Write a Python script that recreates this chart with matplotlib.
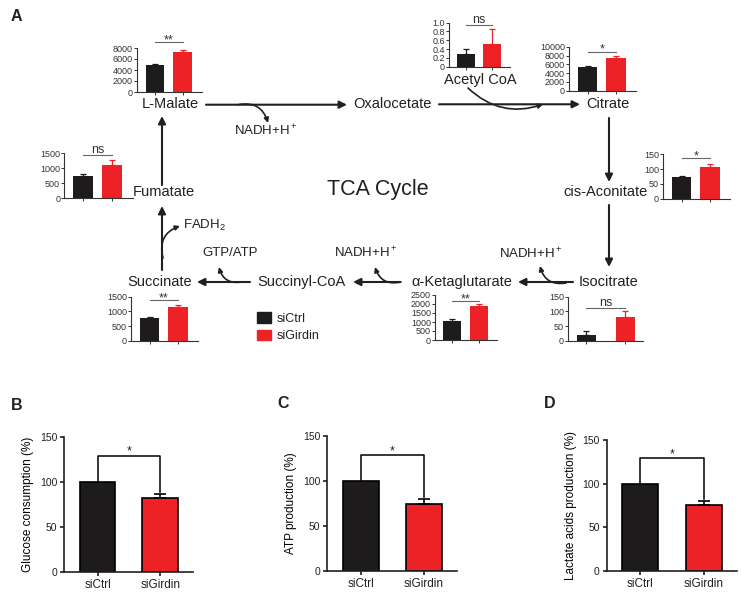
import numpy as np
import matplotlib.pyplot as plt
from matplotlib.patches import Patch

plt.rcParams['font.family'] = ['Liberation Sans', 'DejaVu Sans']
plt.rcParams['text.color'] = '#231f20'
plt.rcParams['axes.edgecolor'] = '#231f20'
plt.rcParams['xtick.color'] = '#231f20'
plt.rcParams['ytick.color'] = '#231f20'

groups = ['siCtrl', 'siGirdin']
black = '#1d1b1c'
red = '#ec2227'

# panel A insets, (siCtrl, siGirdin) mean and upper error
malate = [4950, 7200]
malate_err = [80, 400]
acetyl = [0.28, 0.52]
acetyl_err = [0.13, 0.34]
citrate = [5500, 7450]
citrate_err = [150, 500]
aconitate = [74, 108]
aconitate_err = [4, 9]
fumarate = [745, 1110]
fumarate_err = [65, 165]
succinate = [790, 1160]
succinate_err = [20, 60]
ketoglut = [1060, 1890]
ketoglut_err = [90, 90]
isocitrate = [20, 80]
isocitrate_err = [14, 20]

# panels B-D
glucose = [100, 81.5]
glucose_err = [0, 4.5]
atp = [100, 74.5]
atp_err = [0, 5]
lactate = [100, 76]
lactate_err = [0, 4]

W, H = 741, 596
fig = plt.figure(figsize=(W / 100, H / 100), dpi=100)


def px_axes(x0, y0, x1, y1):
    return fig.add_axes([x0 / W, 1 - y1 / H, (x1 - x0) / W, (y1 - y0) / H])


def sig_text(ax, y, mark, size, color):
    # stars sit just above the line, "ns" a little higher
    off = -0.8 if '*' in mark else 1.5
    ax.annotate(mark, (0.5, y), xytext=(0, off), textcoords='offset points',
                ha='center', va='baseline', fontsize=size, color=color,
                annotation_clip=False)


def inset(box, vals, errs, ymax, step, mark, sig, xlim=(-0.65, 1.7), width=0.68, fmt='%d'):
    ax = px_axes(*box)
    x = np.arange(2)
    ax.bar(x, vals, width, color=[black, red])
    for xi, v, e, c in zip(x, vals, errs, [black, red]):
        ax.errorbar(xi, v, yerr=[[0], [e]], color=c, capsize=2.5, elinewidth=0.9, capthick=0.9)
    ax.set_xlim(*xlim)
    ax.set_ylim(0, ymax)
    ticks = np.arange(0, ymax + step / 2, step)
    ax.set_yticks(ticks)
    ax.set_yticklabels(['0' if t == 0 else fmt % t for t in ticks])
    ax.set_xticks(x)
    ax.set_xticklabels([])
    for s in ['top', 'right']:
        ax.spines[s].set_visible(False)
    for s in ['left', 'bottom']:
        ax.spines[s].set_linewidth(0.8)
        ax.spines[s].set_color('#333333')
    ax.tick_params(length=2, width=0.7, pad=1, labelsize=6.5, colors='#333333')
    ax.patch.set_alpha(0)
    ys = ymax * sig
    ax.plot([0, 1], [ys, ys], color='#666666', lw=0.8, clip_on=False)
    sig_text(ax, ys, mark, 9, '#333333')
    return ax


inset((137, 48, 202, 92), malate, malate_err, 8000, 2000, '**', 1.13)
inset((449, 22.7, 510, 66.7), acetyl, acetyl_err, 1.0, 0.2, 'ns', 0.95, fmt='%.1f')
inset((569, 46.7, 636, 90.7), citrate, citrate_err, 10000, 2000, '*', 0.89)
inset((663, 154.3, 730, 198.7), aconitate, aconitate_err, 150, 50, '*', 0.91)
inset((64.3, 153.3, 132.7, 198.3), fumarate, fumarate_err, 1500, 500, 'ns', 0.96)
inset((131, 296.7, 198, 340.7), succinate, succinate_err, 1500, 500, '**', 0.92)
inset((435, 295, 497, 340), ketoglut, ketoglut_err, 2500, 500, '**', 0.87)
inset((568, 296.7, 643, 340.7), isocitrate, isocitrate_err, 150, 50, 'ns', 0.75,
      xlim=(-0.47, 1.45), width=0.49)


def panel(box, vals, errs, ylabel):
    ax = px_axes(*box)
    x = np.arange(2)
    ax.bar(x, vals, 0.57, color=[black, red], edgecolor='black', linewidth=1.2)
    ax.errorbar(x[1], vals[1], yerr=[[0], [errs[1]]], color='black', capsize=4,
                elinewidth=1.2, capthick=1.2)
    ax.set_xlim(-0.53, 1.52)
    ax.set_ylim(0, 150)
    ax.set_yticks([0, 50, 100, 150])
    ax.set_xticks(x)
    ax.set_xticklabels(groups, fontsize=8.5)
    for s in ['top', 'right']:
        ax.spines[s].set_visible(False)
    for s in ['left', 'bottom']:
        ax.spines[s].set_linewidth(1.2)
    ax.tick_params(axis='y', length=3, width=1.2, pad=2, labelsize=7.5)
    ax.tick_params(axis='x', length=3, width=1.2, pad=2)
    ax.set_ylabel(ylabel, fontsize=8.5, labelpad=4)
    ax.patch.set_alpha(0)
    top = 129
    ax.plot([0, 0, 1, 1], [vals[0] + 1, top, top, vals[1] + errs[1] + 3], color='black', lw=1.1)
    ax.annotate('*', (0.5, top), xytext=(0, 0.5), textcoords='offset points',
                ha='center', va='baseline', fontsize=9, annotation_clip=False)
    return ax


panel((64.3, 436.7, 193, 571.7), glucose, glucose_err, 'Glucose consumption (%)')
panel((327.3, 436, 456.7, 571), atp, atp_err, 'ATP production (%)')
panel((606.7, 440, 736.7, 571), lactate, lactate_err, 'Lactate acids production (%)')

# overlay for the cycle diagram
ov = fig.add_axes([0, 0, 1, 1], zorder=-1)
ov.set_xlim(0, W)
ov.set_ylim(H, 0)
ov.axis('off')

fs = 10.5
labels = [
    ('L-Malate', 170, 104), ('Oxalocetate', 392, 104), ('Citrate', 608, 104),
    ('Acetyl CoA', 480, 80), ('Fumatate', 164, 192.5), ('Succinate', 160, 282),
    ('Succinyl-CoA', 301, 282), ('α-Ketaglutarate', 462, 282), ('Isocitrate', 609, 282),
]
for t, x, y in labels:
    ov.text(x, y, t, ha='center', va='center', fontsize=fs)
ov.text(648, 192.5, 'cis-Aconitate', ha='right', va='center', fontsize=fs)

sfs = 9.5
ov.text(266, 131, r'NADH+H$\mathregular{^+}$', ha='center', va='center', fontsize=sfs)
ov.text(531, 254, r'NADH+H$\mathregular{^+}$', ha='center', va='center', fontsize=sfs)
ov.text(366, 253, r'NADH+H$\mathregular{^+}$', ha='center', va='center', fontsize=sfs)
ov.text(230, 253, 'GTP/ATP', ha='center', va='center', fontsize=sfs)
ov.text(183, 225, r'FADH$\mathregular{_2}$', ha='left', va='center', fontsize=sfs)

ov.text(378, 190, 'TCA Cycle', ha='center', va='center', fontsize=15.5)

for t, x, y in [('A', 16.5, 16.5), ('B', 17, 405), ('C', 283, 404), ('D', 550, 404)]:
    ov.text(x, y, t, ha='center', va='center', fontsize=11.5, fontweight='bold')

straight = dict(arrowstyle='-|>', color='#231f20', lw=1.5, mutation_scale=11,
                shrinkA=0, shrinkB=0)
for (x0, y0), (x1, y1) in [
    ((206, 104.7), (347, 104.7)), ((439, 104.3), (580, 104.3)),
    ((609, 118), (609, 182)), ((609, 205), (609, 267)),
    ((573, 282), (518, 282)), ((400, 282), (353, 282)), ((250, 282), (197, 282)),
    ((162, 270), (162, 206)), ((162, 185), (162, 116)),
]:
    ov.annotate('', xy=(x1, y1), xytext=(x0, y0), arrowprops=straight)

curved = [
    ((238, 104.7), (268, 123), -0.45),
    ((468, 88), (543, 104.3), 0.3),
    ((566, 283), (540, 266), -0.45),
    ((401, 282), (375, 267), -0.45),
    ((242, 282), (219, 267), -0.45),
    ((163, 258), (180, 226), -0.45),
]
for (x0, y0), (x1, y1), rad in curved:
    ov.annotate('', xy=(x1, y1), xytext=(x0, y0),
                arrowprops=dict(arrowstyle='-|>', color='#231f20', lw=1.2, mutation_scale=7,
                                shrinkA=0, shrinkB=0, connectionstyle=f'arc3,rad={rad}'))

handles = [Patch(facecolor=black, edgecolor=black), Patch(facecolor=red, edgecolor=red)]
fig.legend(handles, groups, loc='upper left', bbox_to_anchor=(257 / W, 1 - 312 / H),
           frameon=False, fontsize=9, handlelength=1.1, handleheight=0.95,
           labelspacing=0.4, handletextpad=0.5, borderpad=0, borderaxespad=0)

fig.savefig('out.png', dpi=100)
